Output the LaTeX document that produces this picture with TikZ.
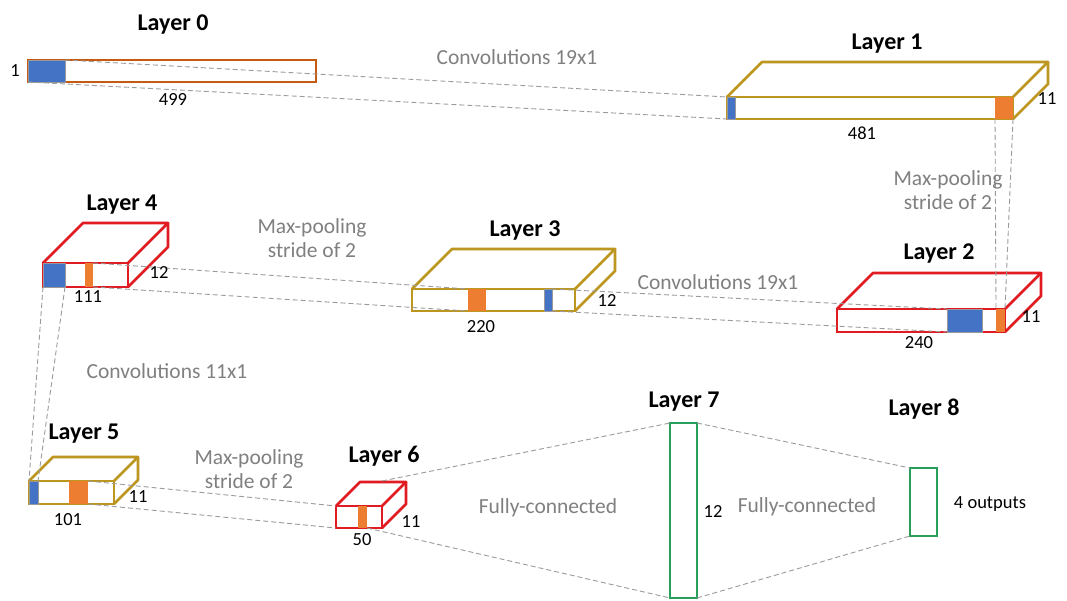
\documentclass[tikz,border=0pt]{standalone}
\usepackage{fontspec}
\setmainfont{Carlito}
\usetikzlibrary{calc}
\definecolor{lzc}{RGB}{197,90,17}
\definecolor{goldc}{RGB}{188,150,30}
\definecolor{redc}{RGB}{224,28,34}
\definecolor{greenc}{RGB}{40,160,92}
\definecolor{bluec}{RGB}{68,114,196}
\definecolor{orangec}{RGB}{237,125,49}
\definecolor{graytxt}{RGB}{128,128,128}
\definecolor{dashc}{RGB}{155,155,155}
\newcommand\cubfaces[3]{%
  \draw[boxline,#3] (#1.north west) -- ++(#2,-#2) -- ($(#1.north east)+(#2,-#2)$) -- (#1.north east);
  \draw[boxline,#3] ($(#1.north east)+(#2,-#2)$) -- ($(#1.south east)+(#2,-#2)$) -- (#1.south east);}
\begin{document}
\begin{tikzpicture}[x=1pt,y=-1pt,
  boxline/.style={line width=2.7pt,line join=round},
  face/.style={draw,line width=2.7pt,anchor=north west,inner sep=0pt,outer sep=0pt},
  cell/.style={anchor=north west,inner sep=0pt,outer sep=0pt,minimum height=22pt},
  bcell/.style={cell,fill=bluec,draw=gray!80,line width=0.8pt},
  ocell/.style={cell,fill=orangec},
  conn/.style={draw=dashc,line width=0.9pt,dash pattern=on 5pt off 3pt},
  ltitle/.style={font=\fontsize{24}{28}\selectfont\bfseries,anchor=base,inner sep=0pt},
  gtxt/.style={font=\fontsize{21.5}{24}\selectfont,text=graytxt,anchor=base,inner sep=0pt},
  num/.style={font=\fontsize{18.5}{22}\selectfont,anchor=base,inner sep=0pt}]
\useasboundingbox[fill=white] (0,0) rectangle (1067,601);

% ---- front faces ----
\node[face,draw=lzc,minimum width=288pt,minimum height=22pt] (L0) at (28,60) {};
\node[face,draw=goldc,minimum width=286pt,minimum height=22pt] (L1) at (727,97) {};
\node[face,draw=redc,minimum width=168pt,minimum height=23pt] (L2) at (837,309) {};
\node[face,draw=goldc,minimum width=163pt,minimum height=22pt] (L3) at (412,289) {};
\node[face,draw=redc,minimum width=85pt,minimum height=24pt] (L4) at (43,263) {};
\node[face,draw=goldc,minimum width=85pt,minimum height=23pt] (L5) at (29,481) {};
\node[face,draw=redc,minimum width=46pt,minimum height=22pt] (L6) at (336,506) {};
\node[face,draw=greenc,minimum width=27pt,minimum height=175pt] (L7) at (670,423) {};
\node[face,draw=greenc,minimum width=27pt,minimum height=68pt] (L8) at (910,468) {};

% ---- top and side faces ----
\cubfaces{L1}{35}{goldc}
\cubfaces{L2}{36}{redc}
\cubfaces{L3}{40}{goldc}
\cubfaces{L4}{40}{redc}
\cubfaces{L5}{24}{goldc}
\cubfaces{L6}{24}{redc}

% ---- cells ----
\node[bcell,minimum width=37pt] (c0b) at (28,60) {};
\node[bcell,minimum width=8pt] (c1b) at (727,97) {};
\node[ocell,minimum width=18pt] (c1o) at (995,97) {};
\node[bcell,minimum width=35pt,minimum height=23pt] (c2b) at (947,309) {};
\node[ocell,minimum width=9pt,minimum height=23pt] (c2o) at (996,309) {};
\node[ocell,minimum width=18pt] (c3o) at (468,289) {};
\node[bcell,minimum width=8pt] (c3b) at (544,289) {};
\node[bcell,minimum width=22pt,minimum height=24pt] (c4b) at (43,263) {};
\node[ocell,minimum width=8pt,minimum height=24pt] (c4o) at (85,263) {};
\node[bcell,minimum width=9pt,minimum height=23pt] (c5b) at (29,481) {};
\node[ocell,minimum width=19pt,minimum height=23pt] (c5o) at (69,481) {};
\node[ocell,minimum width=9pt] (c6o) at (358,506) {};
\coordinate (L6t) at ($(c6o.north west)+(24,-25)$);

% ---- connectors ----
\path[conn] (c0b.north east) -- (c1b.north west);
\path[conn] (c0b.south west) -- (c1b.south west);
\path[conn] (c1o.south west) -- (c2o.north west);
\path[conn] (c1o.south east) -- (c2o.north east);
\path[conn] (c3b.north east) -- (c2b.north west);
\path[conn] (c3b.south east) -- (c2b.south west);
\path[conn] (c4o.north east) -- (c3o.north west);
\path[conn] (c4o.south east) -- (c3o.south west);
\path[conn] (c4b.south west) -- (c5b.north west);
\path[conn] (c4b.south east) -- (c5b.north east);
\path[conn] (c5o.north east) -- (L6.north west);
\path[conn] (c5o.south east) -- (L6.south west);
\path[conn] (L6t) -- (L7.north west);
\path[conn] (c6o.south east) -- (L7.south west);
\path[conn] (L7.north east) -- (L8.north west);
\path[conn] (L7.south east) -- (L8.south west);

% ---- layer titles ----
\node[ltitle] (t0) at (173,31) {Layer 0};
\node[ltitle] (t1) at (887,50) {Layer 1};
\node[ltitle] (t2) at (939,260) {Layer 2};
\node[ltitle] (t3) at (525,237) {Layer 3};
\node[ltitle] (t4) at (122,211) {Layer 4};
\node[ltitle] (t5) at (84,439) {Layer 5};
\node[ltitle] (t6) at (384,462) {Layer 6};
\node[ltitle] (t7) at (684,407) {Layer 7};
\node[ltitle] (t8) at (924,415) {Layer 8};

% ---- gray operation labels ----
\node[gtxt] (g1) at (517,65) {Convolutions 19x1};
\node[gtxt] (g2a) at (948,186) {Max-pooling};
\node[gtxt] (g2b) at (948,210) {stride of 2};
\node[gtxt] (g3) at (718,290) {Convolutions 19x1};
\node[gtxt] (g4a) at (312,234) {Max-pooling};
\node[gtxt] (g4b) at (312,258) {stride of 2};
\node[gtxt] (g5) at (167,378) {Convolutions 11x1};
\node[gtxt] (g6a) at (249,464) {Max-pooling};
\node[gtxt] (g6b) at (249,488) {stride of 2};
\node[gtxt] (g7) at (548,513) {Fully-connected};
\node[gtxt] (g8) at (807,512) {Fully-connected};

% ---- dimension labels ----
\node[num] (n0a) at (15,77) {1};
\node[num] (n0b) at (173,106) {499};
\node[num] (n1a) at (862,140) {481};
\node[num] (n1b) at (1047,105) {11};
\node[num] (n2a) at (919,348) {240};
\node[num] (n2b) at (1031,323) {11};
\node[num] (n3a) at (481,332) {220};
\node[num] (n3b) at (607,306) {12};
\node[num] (n4a) at (88,302) {111};
\node[num] (n4b) at (159,279) {12};
\node[num] (n5a) at (68,525) {101};
\node[num] (n5b) at (138,502) {11};
\node[num] (n6a) at (362,545) {50};
\node[num] (n6b) at (411,527) {11};
\node[num] (n7) at (713,517) {12};
\node[num] (n8) at (990,508) {4 outputs};
\end{tikzpicture}
\end{document}
